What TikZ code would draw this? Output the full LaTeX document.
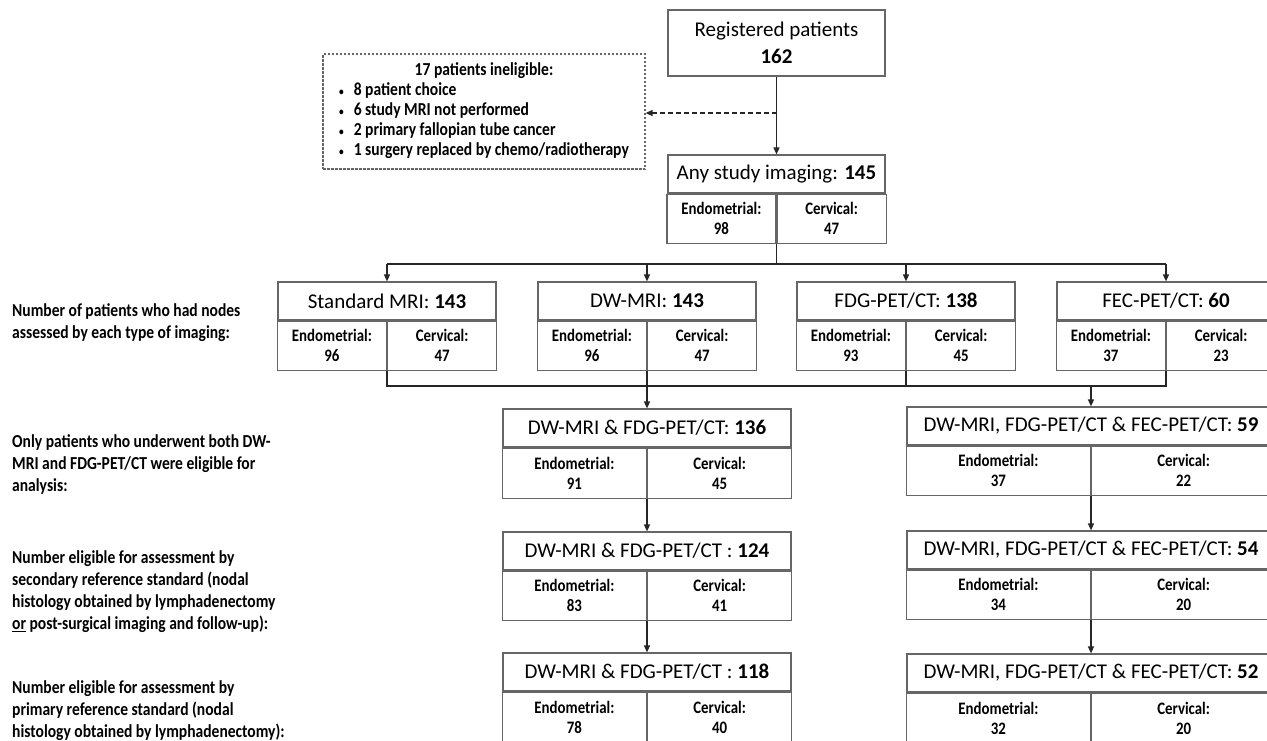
\documentclass[tikz,border=0pt]{standalone}
\usepackage{fontspec}
\setmainfont{Carlito}
\newfontfamily\narrowbf[FakeStretch=0.85]{Carlito}
\usetikzlibrary{arrows.meta}
\definecolor{boxgray}{gray}{0.4}
\tikzstyle{ttl}=[draw=boxgray,line width=1.2pt,minimum width=218pt,minimum height=38pt,inner sep=0pt,font=\fontsize{21}{25}\selectfont]
\tikzstyle{cell}=[draw=boxgray,line width=1.2pt,minimum width=109pt,minimum height=49pt,inner sep=0pt,align=center,font=\narrowbf\bfseries\fontsize{17.5}{20}\selectfont]
\tikzstyle{lbl}=[anchor=west,align=left,inner sep=0pt,font=\narrowbf\bfseries\fontsize{18.3}{22}\selectfont]
\tikzstyle{ln}=[line width=1.3pt,black!85]
\tikzstyle{arr}=[ln,-{Triangle[length=7pt,width=6pt]}]
\newcommand{\smallbul}{{\fontsize{11}{11}\selectfont\textbullet}}

\begin{document}
\begin{tikzpicture}[x=1pt,y=-1pt]
\useasboundingbox (0,0) rectangle (1267,740);
% top of the chart
\node[ttl,minimum width=217pt,minimum height=66pt,align=center,font=\fontsize{21}{27}\selectfont] (reg) at (776.5,43) {Registered patients\\\textbf{162}};
\node[draw=boxgray,line width=1.2pt,dash pattern=on 2.5pt off 1.5pt,minimum width=322pt,minimum height=115pt,inner sep=0pt,font=\narrowbf\bfseries\fontsize{18.3}{20}\selectfont] (inel) at (484,111.5) {\begin{tabular}{@{}l@{\hspace{10pt}}l@{}}
\multicolumn{2}{c}{17 patients ineligible:}\\
\smallbul & 8 patient choice\\
\smallbul & 6 study MRI not performed\\
\smallbul & 2 primary fallopian tube cancer\\
\smallbul & 1 surgery replaced by chemo/radiotherapy
\end{tabular}};
\node[ttl,minimum width=217pt] (any) at (776.5,174) {Any study imaging: \textbf{145}};
\node[cell,anchor=north east] (any-e) at (any.south) {Endometrial:\\98};
\node[cell,anchor=north west] (any-c) at (any.south) {Cervical:\\47};
% one box for each type of imaging
\node[ttl] (std) at (387,301) {Standard MRI: \textbf{143}};
\node[cell,anchor=north east] (std-e) at (std.south) {Endometrial:\\96};
\node[cell,anchor=north west] (std-c) at (std.south) {Cervical:\\47};
\node[ttl] (dw) at (647,301) {DW-MRI: \textbf{143}};
\node[cell,anchor=north east] (dw-e) at (dw.south) {Endometrial:\\96};
\node[cell,anchor=north west] (dw-c) at (dw.south) {Cervical:\\47};
\node[ttl] (fdg) at (906,301) {FDG-PET/CT: \textbf{138}};
\node[cell,anchor=north east] (fdg-e) at (fdg.south) {Endometrial:\\93};
\node[cell,anchor=north west] (fdg-c) at (fdg.south) {Cervical:\\45};
\node[ttl] (fec) at (1166,301) {FEC-PET/CT: \textbf{60}};
\node[cell,anchor=north east] (fec-e) at (fec.south) {Endometrial:\\37};
\node[cell,anchor=north west] (fec-c) at (fec.south) {Cervical:\\23};
% left column: DW-MRI and FDG-PET/CT
\node[ttl,minimum width=288pt] (two) at (647,428) {DW-MRI \& FDG-PET/CT: \textbf{136}};
\node[cell,minimum width=144pt,minimum height=50pt,anchor=north east] (two-e) at (two.south) {Endometrial:\\91};
\node[cell,minimum width=144pt,minimum height=50pt,anchor=north west] (two-c) at (two.south) {Cervical:\\45};
\node[ttl,minimum width=288pt] (twob) at (647,551) {DW-MRI \& FDG-PET/CT : \textbf{124}};
\node[cell,minimum width=144pt,anchor=north east] (twob-e) at (twob.south) {Endometrial:\\83};
\node[cell,minimum width=144pt,anchor=north west] (twob-c) at (twob.south) {Cervical:\\41};
\node[ttl,minimum width=288pt] (twoc) at (647,672) {DW-MRI \& FDG-PET/CT : \textbf{118}};
\node[cell,minimum width=144pt,minimum height=50pt,anchor=north east] (twoc-e) at (twoc.south) {Endometrial:\\78};
\node[cell,minimum width=144pt,minimum height=50pt,anchor=north west] (twoc-c) at (twoc.south) {Cervical:\\40};
% right column: all three
\node[ttl,minimum width=368pt] (three) at (1091,426) {DW-MRI, FDG-PET/CT \& FEC-PET/CT: \textbf{59}};
\node[cell,minimum width=184pt,anchor=north east] (three-e) at (three.south) {Endometrial:\\37};
\node[cell,minimum width=184pt,anchor=north west] (three-c) at (three.south) {Cervical:\\22};
\node[ttl,minimum width=368pt] (threeb) at (1091,550) {DW-MRI, FDG-PET/CT \& FEC-PET/CT: \textbf{54}};
\node[cell,minimum width=184pt,anchor=north east] (threeb-e) at (threeb.south) {Endometrial:\\34};
\node[cell,minimum width=184pt,anchor=north west] (threeb-c) at (threeb.south) {Cervical:\\20};
\node[ttl,minimum width=368pt] (threec) at (1091,673) {DW-MRI, FDG-PET/CT \& FEC-PET/CT: \textbf{52}};
\node[cell,minimum width=184pt,minimum height=50pt,anchor=north east] (threec-e) at (threec.south) {Endometrial:\\32};
\node[cell,minimum width=184pt,minimum height=50pt,anchor=north west] (threec-c) at (threec.south) {Cervical:\\20};
% row labels
\node[lbl] (lab1) at (12,322.5) {Number of patients who had nodes\\assessed by each type of imaging:};
\node[lbl] (lab2) at (12,464) {Only patients who underwent both DW-\\MRI and FDG-PET/CT were eligible for\\analysis:};
\node[lbl] (lab3) at (12,591.5) {Number eligible for assessment by\\secondary reference standard (nodal\\histology obtained by lymphadenectomy\\\underline{or} post-surgical imaging and follow-up):};
\node[lbl] (lab4) at (12,711) {Number eligible for assessment by\\primary reference standard (nodal\\histology obtained by lymphadenectomy):};
% connectors
\coordinate (brk) at (776.5,113);
\coordinate (fan) at (776.5,264);
\coordinate (join) at (776.5,386);
\draw[arr] (reg) -- (any);
\draw[arr,dash pattern=on 5pt off 3pt] (brk) -- (brk -| inel.east);
\draw[ln] (any-e.south east) -- (fan);
\draw[ln] (std.north |- fan) -- (fec.north |- fan);
\draw[arr] (std.north |- fan) -- (std.north);
\draw[arr] (dw.north |- fan) -- (dw.north);
\draw[arr] (fdg.north |- fan) -- (fdg.north);
\draw[arr] (fec.north |- fan) -- (fec.north);
\draw[ln] (std-e.south east) -- (std-e.south east |- join) -- (fec-e.south east |- join) -- (fec-e.south east);
\draw[ln] (fdg-e.south east) -- (fdg-e.south east |- join);
\draw[arr] (dw-e.south east) -- (two.north);
\draw[arr] (three.north |- join) -- (three.north);
\draw[arr] (two-e.south east) -- (twob.north);
\draw[arr] (twob-e.south east) -- (twoc.north);
\draw[arr] (three-e.south east) -- (threeb.north);
\draw[arr] (threeb-e.south east) -- (threec.north);
\end{tikzpicture}
\end{document}
